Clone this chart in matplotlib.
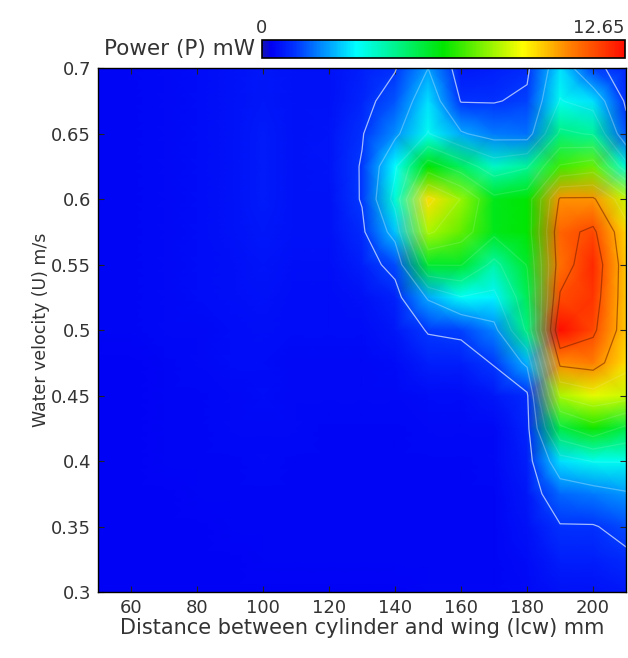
import numpy as np
import matplotlib.pyplot as plt
from matplotlib.colors import LinearSegmentedColormap

# grid of the measurements
lcw = np.arange(50, 211, 10)              # mm
velocity = np.round(np.arange(0.3, 0.7001, 0.025), 3)   # m/s

# power (mW), one row per velocity, written from the top (0.7) down to 0.3
power_rows = [
    # 50   60   70   80   90   100  110  120  130  140  150  160  170  180  190   200   210
    [0.40, 0.40, 0.45, 0.50, 0.60, 0.70, 0.60, 0.60, 0.80, 1.10, 2.30, 0.70, 0.80, 1.00, 3.00, 1.30, 0.90],  # 0.700
    [0.40, 0.40, 0.45, 0.50, 0.60, 0.70, 0.60, 0.60, 0.90, 1.50, 3.00, 1.10, 1.10, 1.30, 3.50, 3.00, 1.00],  # 0.675
    [0.40, 0.40, 0.45, 0.50, 0.60, 0.75, 0.60, 0.65, 1.10, 2.10, 3.50, 2.40, 1.90, 1.80, 4.80, 4.50, 1.50],  # 0.650
    [0.40, 0.40, 0.45, 0.50, 0.60, 0.75, 0.60, 0.65, 1.20, 3.30, 6.30, 5.20, 4.00, 4.50, 7.00, 7.50, 3.80],  # 0.625
    [0.40, 0.40, 0.45, 0.50, 0.60, 0.75, 0.60, 0.60, 1.20, 3.80, 9.50, 8.00, 6.00, 6.30, 10.5, 10.5, 8.50],  # 0.600
    [0.40, 0.40, 0.45, 0.50, 0.60, 0.70, 0.60, 0.60, 1.00, 2.70, 8.20, 7.40, 6.00, 6.30, 11.2, 11.7, 9.60],  # 0.575
    [0.40, 0.40, 0.45, 0.50, 0.55, 0.65, 0.55, 0.55, 0.80, 1.40, 5.80, 5.80, 4.30, 5.80, 11.0, 12.2, 9.80],  # 0.550
    [0.40, 0.40, 0.45, 0.50, 0.55, 0.60, 0.50, 0.50, 0.60, 0.85, 2.40, 3.40, 3.20, 5.30, 11.6, 12.0, 9.80],  # 0.525
    [0.40, 0.40, 0.45, 0.45, 0.50, 0.55, 0.50, 0.50, 0.50, 0.70, 1.20, 1.30, 2.00, 4.80, 12.65, 11.7, 9.80],  # 0.500
    [0.35, 0.35, 0.40, 0.45, 0.50, 0.50, 0.45, 0.45, 0.45, 0.50, 0.80, 0.80, 1.20, 2.50, 10.6, 10.8, 9.50],  # 0.475
    [0.35, 0.35, 0.40, 0.40, 0.45, 0.50, 0.45, 0.45, 0.45, 0.45, 0.50, 0.50, 0.70, 1.00, 8.20, 8.80, 8.50],  # 0.450
    [0.35, 0.35, 0.40, 0.40, 0.45, 0.45, 0.45, 0.40, 0.40, 0.40, 0.45, 0.45, 0.45, 0.90, 5.50, 6.50, 5.50],  # 0.425
    [0.35, 0.35, 0.40, 0.40, 0.40, 0.45, 0.40, 0.40, 0.40, 0.40, 0.40, 0.40, 0.45, 0.80, 3.00, 3.50, 3.50],  # 0.400
    [0.35, 0.35, 0.35, 0.40, 0.40, 0.40, 0.40, 0.40, 0.40, 0.40, 0.40, 0.40, 0.40, 0.70, 1.70, 1.90, 2.20],  # 0.375
    [0.35, 0.35, 0.35, 0.35, 0.40, 0.40, 0.40, 0.40, 0.40, 0.40, 0.40, 0.40, 0.40, 0.60, 1.10, 1.10, 1.40],  # 0.350
    [0.35, 0.35, 0.35, 0.35, 0.35, 0.40, 0.40, 0.40, 0.40, 0.40, 0.40, 0.40, 0.40, 0.50, 0.80, 0.80, 1.00],  # 0.325
    [0.35, 0.35, 0.35, 0.35, 0.35, 0.35, 0.35, 0.35, 0.35, 0.35, 0.40, 0.40, 0.40, 0.45, 0.60, 0.60, 0.70],  # 0.300
]
power = np.array(power_rows)[::-1]
pmax = 12.65

x_ticks = [60, 80, 100, 120, 140, 160, 180, 200]
y_ticks = [0.3, 0.35, 0.4, 0.45, 0.5, 0.55, 0.6, 0.65, 0.7]
y_ticklabels = ['0.3', '0.35', '0.4', '0.45', '0.5', '0.55', '0.6', '0.65', '0.7']

cmap = LinearSegmentedColormap.from_list('power', [
    (0.0, (0.08, 0.08, 0.70)),
    (0.025, (0.0, 0.0, 0.96)),
    (0.09, (0.0, 0.2, 1.0)),
    (0.26, (0.0, 1.0, 1.0)),
    (0.5, (0.0, 0.9, 0.0)),
    (0.72, (1.0, 1.0, 0.0)),
    (0.85, (1.0, 0.5, 0.0)),
    (1.0, (1.0, 0.05, 0.0)),
])

fig = plt.figure(figsize=(6.28, 6.58), dpi=100)
ax = fig.add_axes([0.156, 0.1003, 0.841, 0.796])
cax = fig.add_axes([0.417, 0.912, 0.578, 0.027])

X, Y = np.meshgrid(lcw, velocity)
mesh = ax.pcolormesh(X, Y, power, cmap=cmap, vmin=0, vmax=pmax, shading='gouraud')

# contour lines: pale at the low levels, dark at the top levels
levels = np.linspace(0, pmax, 12)[1:-1]
line_cols = []
for i, lv in enumerate(levels):
    if i == 0:
        line_cols.append((0.85, 0.9, 1.0, 0.75))
    elif i == 1:
        line_cols.append((0.85, 0.95, 1.0, 0.35))
    elif lv > 10:
        line_cols.append((0.45, 0.12, 0.0, 0.55))
    else:
        line_cols.append((1.0, 1.0, 1.0, 0.12))
ax.contour(X, Y, power, levels=levels, colors=line_cols, linewidths=0.9)

ax.set_xlim(50, 210)
ax.set_ylim(0.3, 0.7)
ax.set_xticks(x_ticks)
ax.set_yticks(y_ticks)
ax.set_yticklabels(y_ticklabels)
ax.tick_params(direction='in', length=4, width=0.8, top=True, right=True,
               labelsize=13, colors='#222222', labelcolor='#333333', pad=5)
ax.set_xlabel('Distance between cylinder and wing (lcw) mm', fontsize=15, color='#333333', labelpad=1)
ax.set_ylabel('Water velocity (U) m/s', fontsize=12.5, color='#333333', labelpad=1)
for s in ax.spines.values():
    s.set_linewidth(1.0)

cb = fig.colorbar(mesh, cax=cax, orientation='horizontal', ticks=[])
cb.outline.set_linewidth(1.2)
cax.text(0.0, 1.15, '0', transform=cax.transAxes, ha='center', va='bottom', fontsize=13, color='#333333')
cax.text(1.0, 1.15, '12.65', transform=cax.transAxes, ha='right', va='bottom', fontsize=13, color='#333333')
cax.text(-0.02, 0.5, 'Power (P) mW', transform=cax.transAxes, ha='right', va='center', fontsize=15.5, color='#333333')

fig.savefig('out.png', dpi=100)
